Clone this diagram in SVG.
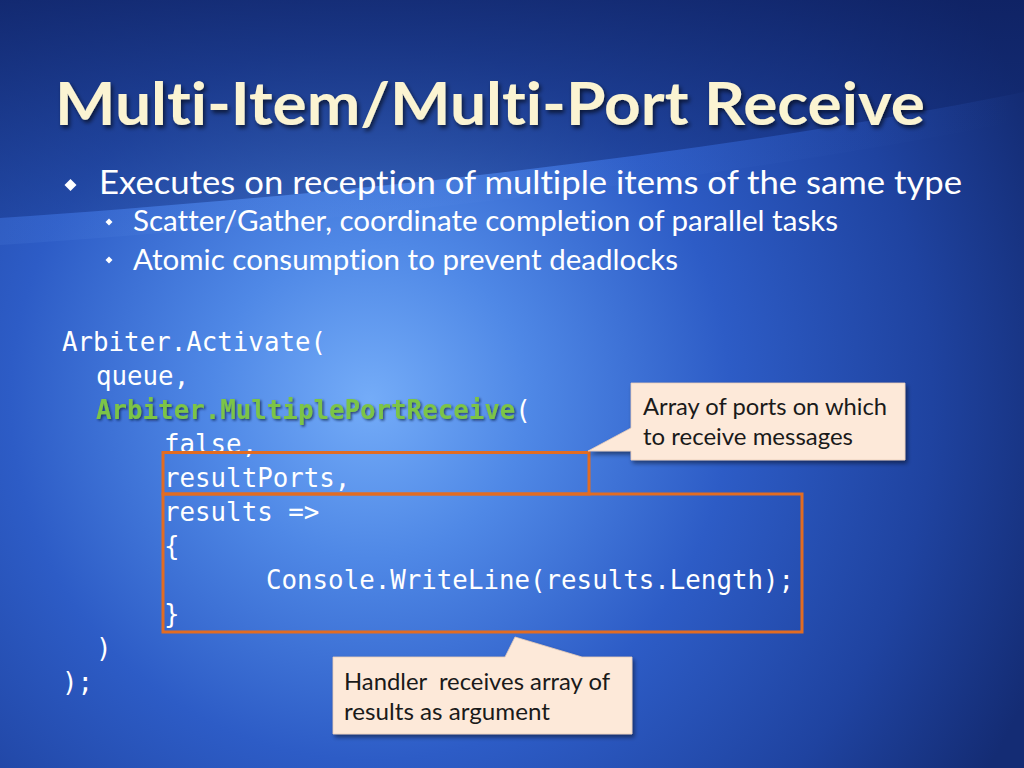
<svg xmlns="http://www.w3.org/2000/svg" width="1024" height="768" viewBox="0 0 1024 768">
<defs>
<radialGradient id="bg" cx="370" cy="400" r="720" gradientUnits="userSpaceOnUse">
<stop offset="0" stop-color="#74acf8"/>
<stop offset="0.22" stop-color="#4f88e6"/>
<stop offset="0.5" stop-color="#2d5cc6"/>
<stop offset="0.78" stop-color="#1f43a0"/>
<stop offset="1" stop-color="#142c74"/>
</radialGradient>
<linearGradient id="top" x1="0" y1="0" x2="0" y2="1">
<stop offset="0" stop-color="#0e2060" stop-opacity="0.75"/>
<stop offset="1" stop-color="#14307c" stop-opacity="0.4"/>
</linearGradient>
<linearGradient id="sw" x1="0" y1="0" x2="1" y2="0">
<stop offset="0" stop-color="#5c8fe8" stop-opacity="0.14"/>
<stop offset="1" stop-color="#5c8fe8" stop-opacity="0"/>
</linearGradient>
<filter id="tsh" x="-5%" y="-20%" width="110%" height="150%">
<feDropShadow dx="2" dy="3" stdDeviation="2" flood-color="#000" flood-opacity="0.6"/>
</filter>
<filter id="csh" x="-10%" y="-10%" width="120%" height="130%">
<feDropShadow dx="2" dy="3" stdDeviation="2" flood-color="#000" flood-opacity="0.45"/>
</filter>
<filter id="gsh" x="-5%" y="-20%" width="110%" height="150%">
<feDropShadow dx="1.5" dy="1.5" stdDeviation="1" flood-color="#0a1a40" flood-opacity="0.7"/>
</filter>
<style>
text{font-variant-ligatures:none;white-space:pre}
.title{font-family:Lato,"Open Sans",sans-serif;font-weight:bold;font-size:60px;fill:#fbf4d2}
.b1{font-family:Lato,"Open Sans",sans-serif;font-size:33px;fill:#ffffff}
.b2{font-family:Lato,"Open Sans",sans-serif;font-size:28px;fill:#ffffff}
.code{font-family:"DejaVu Sans Mono","Liberation Mono",monospace;font-size:25.8px;fill:#ffffff}
.green{fill:#7cc446;font-weight:bold}
.box{fill:none;stroke:#e26c22;stroke-width:3}
.callout{fill:#fde9d9;stroke:#e8cdb8;stroke-width:0.8}
.ct{font-family:Lato,"Open Sans",sans-serif;font-size:23px;fill:#1a1a1a}
</style>
</defs>

<g id="background">
<rect x="0" y="0" width="1024" height="768" fill="url(#bg)"/>
<path d="M0,0 H1024 V92 C700,158 300,198 0,218 Z" fill="url(#top)"/>
<path d="M0,218 C300,198 700,158 1024,92 V120 C700,185 300,225 0,245 Z" fill="url(#sw)"/>
</g>

<g id="title">
<text class="title" x="55" y="125" textLength="870" lengthAdjust="spacingAndGlyphs" filter="url(#tsh)">Multi-Item/Multi-Port Receive</text>
</g>

<g id="bullets">
<path d="M70.5,179 L76.5,185 L70.5,191 L64.5,185 Z" fill="#ffffff"/>
<text class="b1" x="99" y="194" textLength="863" lengthAdjust="spacingAndGlyphs">Executes on reception of multiple items of the same type</text>
<path d="M109,218.5 L112.5,222 L109,225.5 L105.5,222 Z" fill="#ffffff"/>
<text class="b2" x="133" y="231" textLength="705" lengthAdjust="spacingAndGlyphs">Scatter/Gather, coordinate completion of parallel tasks</text>
<path d="M109,256.5 L112.5,260 L109,263.5 L105.5,260 Z" fill="#ffffff"/>
<text class="b2" x="133" y="270" textLength="545" lengthAdjust="spacingAndGlyphs">Atomic consumption to prevent deadlocks</text>
</g>

<g id="code">
<text class="code" x="62" y="351">Arbiter.Activate(</text>
<text class="code" x="96" y="385">queue,</text>
<text class="code" x="96" y="419"><tspan class="green" filter="url(#gsh)">Arbiter.MultiplePortReceive</tspan>(</text>
<text class="code" x="164" y="453">false,</text>
<text class="code" x="164" y="487">resultPorts,</text>
<text class="code" x="164" y="521">results =&gt;</text>
<text class="code" x="164" y="555">{</text>
<text class="code" x="266" y="589">Console.WriteLine(results.Length);</text>
<text class="code" x="164" y="623">}</text>
<text class="code" x="96" y="657">)</text>
<text class="code" x="62" y="691">);</text>
</g>

<g id="box-ports">
<rect class="box" x="163" y="452.5" width="426" height="41.5"/>
</g>
<g id="box-handler">
<rect class="box" x="163" y="494" width="639" height="138"/>
</g>

<g id="connectors">
</g>

<g id="callout-ports">
<path class="callout" filter="url(#csh)" d="M631,383 H905 V460 H631 V451 L588,451 L631,428 Z"/>
<text class="ct" x="643" y="415" textLength="244" lengthAdjust="spacingAndGlyphs">Array of ports on which</text>
<text class="ct" x="643" y="445" textLength="210" lengthAdjust="spacingAndGlyphs">to receive messages</text>
</g>

<g id="callout-handler">
<path class="callout" filter="url(#csh)" d="M333,657 H505 L515,637 L582,657 H632 V734 H333 Z"/>
<text class="ct" x="344" y="690" textLength="266" lengthAdjust="spacingAndGlyphs">Handler  receives array of</text>
<text class="ct" x="344" y="720" textLength="206" lengthAdjust="spacingAndGlyphs">results as argument</text>
</g>
</svg>
